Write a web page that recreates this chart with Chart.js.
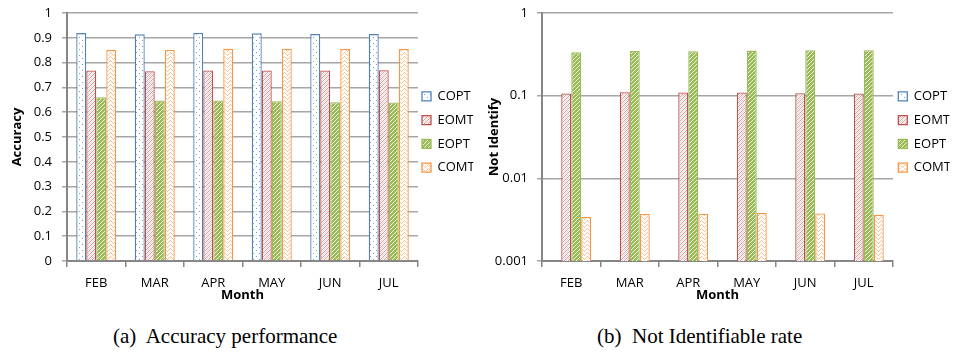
<!DOCTYPE html>
<html>
<head>
<meta charset="utf-8">
<script src="https://cdn.jsdelivr.net/npm/chart.js@4.4.1/dist/chart.umd.min.js"></script>
<style>
  html, body { margin: 0; padding: 0; background: #fff; }
  body { width: 953px; height: 354px; position: relative; overflow: hidden; }
  .box { position: absolute; top: 0; }
  .cap { position: absolute; top: 324px; font-family: "Liberation Serif", "Times New Roman", serif; font-size: 21px; color: #000; white-space: pre; }
</style>
</head>
<body>
<div class="box" style="left:0px;width:480px;height:303px;"><canvas id="c1"></canvas></div>
<div class="box" style="left:477px;width:478px;height:303px;"><canvas id="c2"></canvas></div>
<div class="cap" id="capA" style="left:113px;">(a)  Accuracy performance</div>
<div class="cap" id="capB" style="left:597px;">(b)  Not Identifiable rate</div>
<script>
// ---- Data ----
const months = ['FEB', 'MAR', 'APR', 'MAY', 'JUN', 'JUL'];
const seriesNames = ['COPT', 'EOMT', 'EOPT', 'COMT'];

// (a) Accuracy
const accCOPT = [0.919, 0.914, 0.920, 0.918, 0.915, 0.915];
const accEOMT = [0.768, 0.765, 0.768, 0.768, 0.768, 0.769];
const accEOPT = [0.660, 0.647, 0.647, 0.644, 0.640, 0.639];
const accCOMT = [0.852, 0.851, 0.856, 0.856, 0.856, 0.855];

// (b) Not Identify rate (log scale); COPT has no visible bars
const niCOPT = [null, null, null, null, null, null];
const niEOMT = [0.106, 0.110, 0.109, 0.109, 0.107, 0.106];
const niEOPT = [0.335, 0.347, 0.344, 0.351, 0.354, 0.354];
const niCOMT = [0.00343, 0.00370, 0.00373, 0.00383, 0.00376, 0.00363];

const accTickValues = [0, 0.1, 0.2, 0.3, 0.4, 0.5, 0.6, 0.7, 0.8, 0.9, 1];
const accTickLabels = ['0', '0.1', '0.2', '0.3', '0.4', '0.5', '0.6', '0.7', '0.8', '0.9', '1'];
const niTickValues = [0.001, 0.01, 0.1, 1];
const niTickLabels = ['0.001', '0.01', '0.1', '1'];

// ---- Styles ----
const borderColors = ['#4F81BD', '#C0504D', '#9BBB59', '#F79646'];

function makePattern(kind) {
  const c = document.createElement('canvas');
  const ctx = c.getContext('2d');
  if (kind === 'dots') {
    c.width = 6; c.height = 6;
    ctx.fillStyle = '#ffffff'; ctx.fillRect(0, 0, 6, 6);
    ctx.fillStyle = 'rgba(79,129,189,0.75)';
    ctx.fillRect(1, 1, 1, 1); ctx.fillRect(4, 4, 1, 1);
  } else if (kind === 'red') {
    c.width = 4; c.height = 4;
    ctx.fillStyle = '#ffffff'; ctx.fillRect(0, 0, 4, 4);
    ctx.fillStyle = 'rgba(192,80,77,0.55)';
    for (let i = 0; i < 4; i++) { ctx.fillRect(i, 3 - i, 1, 1); }
    ctx.fillStyle = 'rgba(192,80,77,0.25)';
    for (let i = 0; i < 4; i++) { ctx.fillRect(i, (5 - i) % 4, 1, 1); }
  } else if (kind === 'green') {
    c.width = 4; c.height = 4;
    ctx.fillStyle = '#9BBB59'; ctx.fillRect(0, 0, 4, 4);
    ctx.fillStyle = 'rgba(255,255,255,0.8)';
    for (let i = 0; i < 4; i++) { ctx.fillRect(i, 3 - i, 1, 1); }
  } else if (kind === 'orange') {
    c.width = 6; c.height = 4;
    ctx.fillStyle = '#ffffff'; ctx.fillRect(0, 0, 6, 4);
    ctx.fillStyle = 'rgba(247,150,70,0.6)';
    ctx.fillRect(0, 2, 1, 1); ctx.fillRect(1, 1, 1, 1); ctx.fillRect(2, 0, 1, 1);
    ctx.fillRect(3, 1, 1, 1); ctx.fillRect(4, 2, 1, 1); ctx.fillRect(5, 3, 1, 1);
  }
  return document.createElement('canvas').getContext('2d').createPattern(c, 'repeat');
}
const fills = [makePattern('dots'), makePattern('red'), makePattern('green'), makePattern('orange')];

const FONT = "'Open Sans', 'Liberation Sans', sans-serif";
Chart.defaults.font.family = FONT;
Chart.defaults.color = '#000';
Chart.defaults.animation = false;

// nudges the library legend box after layout
const legendShift = {
  id: 'legendShift',
  afterLayout(chart, args, opts) {
    const l = chart.legend;
    if (!l) return;
    l.left += opts.dx; l.right += opts.dx;
    l.top += opts.dy; l.bottom += opts.dy;
  }
};

function makeDatasets(arrs) {
  return arrs.map((d, i) => ({
    label: seriesNames[i],
    data: d,
    backgroundColor: fills[i],
    borderColor: borderColors[i],
    borderWidth: 1.3,
    borderSkipped: 'bottom',
    categoryPercentage: 0.684,
    barPercentage: 1.0
  }));
}

function baseOptions(yCfg, yTitle, yAxisWidth, dx, dy) {
  return {
    responsive: true,
    maintainAspectRatio: false,
    layout: { padding: { top: 13, right: 0, bottom: 0, left: 0 } },
    plugins: {
      legend: {
        position: 'right',
        maxWidth: 62,
        labels: {
          boxWidth: 9, boxHeight: 9, padding: 10.7,
          font: { size: 13 }, color: '#000'
        }
      },
      legendShift: { dx: dx, dy: dy },
      tooltip: { enabled: false }
    },
    scales: {
      x: {
        grid: { display: true, offset: true, drawOnChartArea: false, drawTicks: true, tickLength: 6, color: '#868686', lineWidth: 1.5 },
        border: { display: true, color: '#868686', width: 2 },
        ticks: { font: { size: 13 }, padding: 8, color: '#000' },
        title: { display: true, text: 'Month', font: { size: 13, weight: 'bold' }, padding: { top: 0, bottom: 0 }, color: '#000' },
        afterFit: s => { s.height = 42; }
      },
      y: Object.assign({
        grid: { color: '#A6A6A6', lineWidth: 1.5, tickLength: 5, drawTicks: true },
        border: { display: true, color: '#868686', width: 2 },
        title: { display: true, text: yTitle, font: { size: 13, weight: 'bold' }, padding: { top: 9, bottom: 0 }, color: '#000' },
        afterFit: s => { s.width = yAxisWidth; s.paddingTop = 0; s.paddingBottom = 0; }
      }, yCfg)
    }
  };
}

// Chart (a)
new Chart(document.getElementById('c1'), {
  type: 'bar',
  data: { labels: months, datasets: makeDatasets([accCOPT, accEOMT, accEOPT, accCOMT]) },
  options: baseOptions({
    type: 'linear', min: 0, max: 1,
    afterBuildTicks: s => { s.ticks = accTickValues.map(v => ({ value: v })); },
    ticks: { font: { size: 13 }, padding: 10, color: '#000',
      callback: (v) => { const i = accTickValues.findIndex(t => Math.abs(t - v) < 1e-9); return i >= 0 ? accTickLabels[i] : ''; } }
  }, 'Accuracy', 67, -6.7, -26),
  plugins: [legendShift]
});

// Chart (b)
new Chart(document.getElementById('c2'), {
  type: 'bar',
  data: { labels: months, datasets: makeDatasets([niCOPT, niEOMT, niEOPT, niCOMT]) },
  options: baseOptions({
    type: 'logarithmic', min: 0.001, max: 1,
    afterBuildTicks: s => { s.ticks = niTickValues.map(v => ({ value: v })); },
    ticks: { font: { size: 13 }, padding: 9, color: '#000',
      callback: (v) => { const i = niTickValues.findIndex(t => Math.abs(t - v) < 1e-12); return i >= 0 ? niTickLabels[i] : ''; } }
  }, 'Not Identify', 65, -5.4, -26),
  plugins: [legendShift]
});
</script>
</body>
</html>
